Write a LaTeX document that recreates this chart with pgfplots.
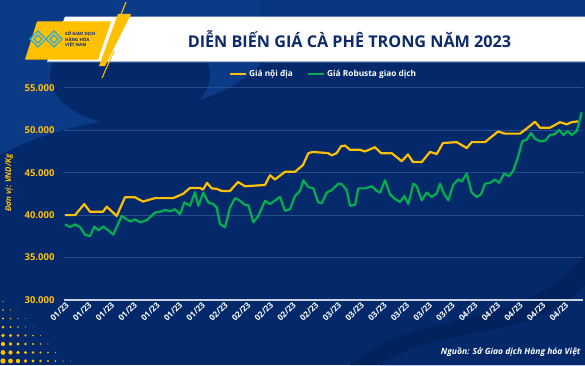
\documentclass[border=0pt]{standalone}
\usepackage{pgfplots}
\pgfplotsset{compat=1.18}
\usepackage{fontspec}
\setmainfont{Open Sans}
\definecolor{bg}{HTML}{03296B}
\definecolor{bgl}{HTML}{0B3A86}
\definecolor{bgd}{HTML}{01225C}
\definecolor{yel}{HTML}{FFC000}
\definecolor{grn}{HTML}{00B050}
\definecolor{gridc}{HTML}{294C8C}
\definecolor{navy}{HTML}{0D2A6B}
\definecolor{cyanlogo}{HTML}{29ABE2}

\pgfplotstableread{
x y
65 40000
75 40000
84.3 41300
90 40400
103 40400
106.7 41000
116.7 39900
125 42100
135 42100
143 41600
155 42000
173 42000
183 42500
190 43200
200 43200
203 43000
207 43800
211.7 43150
216.7 43100
221.7 42850
230 42850
238 43900
245 43400
265 43550
270 44700
275 44200
285 45100
295 45100
303 45900
308.3 47300
313 47450
328 47300
331.7 47050
336.7 47300
341 48100
345 48200
350 47700
360 47700
365 47500
375 48000
381 47300
391.7 47300
401.7 46350
408 47150
413 46250
421.7 46250
430 47450
436.7 47200
443 48500
456.7 48600
466.7 47900
471.7 48600
485 48600
498 49850
505 49600
520 49600
526.7 50200
535 51000
540 50300
550 50300
560 50950
566.7 50700
571.7 50950
578 51050
}\domestic

\pgfplotstableread{
x y
65 38900
70 38600
75 38900
80 38600
85 37700
90 37500
94.3 38650
98.3 38200
103.3 38650
108.3 38200
113.3 37700
121.7 39900
130 39250
135 39500
140 39150
146.7 39400
155 40300
161.7 40450
165 40600
170 40450
175 40700
180 40100
184.3 41500
190 41100
195 42700
198.3 41100
203.3 42650
208.3 41500
213.3 41300
216.7 40900
220 38950
225 38550
230 40900
235 42000
239.3 41750
245 41200
248.3 41200
253.3 39150
258.3 39900
265 41700
270 41300
280 42150
285 40500
290 40700
295 42250
300 42850
303.3 44100
308.3 43300
313.3 43150
318.3 41500
321.7 41400
326.7 42650
331.7 42950
338.3 43700
341.7 43650
346.7 42950
350 41100
355 41200
358.3 43150
365 43150
371.7 43400
376.7 42850
380 42650
385 44100
390 42450
395 41900
400 41550
404.3 42250
408.3 41300
413.3 43700
416.7 43400
421.7 41750
426.7 42650
431.7 42150
436.7 42550
440 43700
444.3 42450
448.3 41750
453.3 43600
458.3 44200
461.7 43950
466.7 44900
471.7 42650
476.7 42150
481 42450
485 43700
490 43800
495 44200
499 43800
504.3 44900
509 44600
513.3 45250
517.7 46750
522.3 48700
526.7 48900
531 49650
535 49000
540 48700
545 48750
550 49450
555 49550
559 50050
563.3 49450
567.7 49900
571.7 49450
576.7 49900
581.7 52100
}\robusta

\begin{document}
\begin{tikzpicture}[x=1pt,y=1pt]
\useasboundingbox (0,0) rectangle (585,365);
\begin{scope}
\clip (0,0) rectangle (585,365);
\fill[bg] (0,0) rectangle (585,365);
% lighter top-left sweep
\fill[bgl] (0,365) -- (260,365) -- (260,300) .. controls (200,240) and (90,260) .. (0,210) -- cycle;
\fill[bg] (130,290) ellipse (80pt and 50pt);
\fill[bgl!70!bg] (260,365) -- (585,365) -- (585,340) -- (260,340) -- cycle;
% bottom-right wave
\fill[bgd] (350,0) .. controls (420,60) and (520,30) .. (585,110) -- (585,0) -- cycle;
\fill[bg] (380,0) .. controls (450,45) and (530,20) .. (585,80) -- (585,0) -- cycle;
% halftone dots
\foreach \i in {0,...,10}{
  \foreach \j in {0,...,9}{
    \pgfmathsetmacro{\r}{2.7-0.26*\i-0.3*\j}
    \ifdim\r pt>0.35pt
      \fill[yel] (3+7.5*\i, 4+8.5*\j) circle (\r pt);
    \fi
  }
}
\end{scope}

% banner
\fill[white] (47,303.3) -- (65,348.3) -- (585,348.3) -- (585,303.3) -- cycle;
\draw[gridc, line width=0.8pt] (47,302.9) -- (585,302.9);
% logo
\fill[yel] (25,305.5) -- (37,343.5) -- (111,343.5) -- (98,305.5) -- cycle;
\begin{scope}[cyanlogo, line width=1.1pt]
\draw (30,326) -- (38,334) -- (46,326) -- (54,334) -- (62,326) -- (54,318) -- (46,326) -- (38,318) -- cycle;
\draw (34,326) -- (38,330) -- (42,326) -- (38,322) -- cycle;
\draw (50,326) -- (54,330) -- (58,326) -- (54,322) -- cycle;
\end{scope}
\node[anchor=west, inner sep=0pt, text=navy, font=\bfseries\fontsize{4.4}{5}\selectfont, align=left] at (65,326) {SỞ GIAO DỊCH\\HÀNG HÓA\\VIỆT NAM};
% stripes
\draw[yel, line width=1.1pt] (126,363) -- (109,320);
\fill[yel] (118,351) -- (131,351) -- (105,299) -- (99,299) -- cycle;
\draw[yel, line width=1.1pt] (114,314) -- (102,287);

% title
\node[text=navy, font=\bfseries\fontsize{16.2}{18}\selectfont] at (349.5,325.5) {DIỄN BIẾN GIÁ CÀ PHÊ TRONG NĂM 2023};

\begin{axis}[
  at={(64pt,65pt)}, anchor=south west,
  width=519pt, height=212.2pt, scale only axis,
  xmin=64, xmax=583, ymin=30000, ymax=55000,
  ytick={30000,35000,40000,45000,50000,55000},
  scaled y ticks=false,
  xtick={65.5,88.2,110.9,133.6,156.3,179,201.7,224.4,247.1,269.8,292.5,315.2,337.9,360.6,383.3,406,428.7,451.4,474.1,496.8,519.5,542.2,564.9},
  xticklabels={01/23,01/23,01/23,01/23,01/23,01/23,01/23,02/23,02/23,02/23,02/23,02/23,03/23,03/23,03/23,03/23,03/23,03/23,04/23,04/23,04/23,04/23,04/23},
  ymajorgrids, grid style={gridc, line width=0.7pt},
  axis line style={draw=none},
  major tick length=0pt,
  yticklabel style={text=yel, font=\bfseries\fontsize{9.5}{10}\selectfont, xshift=-6pt,
    /pgf/number format/1000 sep={.}, /pgf/number format/assume math mode=true},
  xticklabel style={text=white, font=\bfseries\fontsize{8.3}{9}\selectfont, rotate=45, anchor=east, yshift=-4pt, inner sep=1pt},
  legend style={at={(0.5,1)}, anchor=center, yshift=14pt, draw=none, fill=none, text=white,
    font=\bfseries\fontsize{8.3}{9}\selectfont},
  legend columns=2,
  legend cell align=left,
  /tikz/every even column/.append style={column sep=12pt},
  legend image code/.code={\draw[#1] (0pt,0pt) -- (16pt,0pt);},
]
\addplot[yel, line width=2.2pt, line join=round] table {\domestic};
\addlegendentry{Giá nội địa}
\addplot[grn, line width=2.2pt, line join=round] table {\robusta};
\addlegendentry{Giá Robusta giao dịch}
\draw[white!75!gridc, line width=1.5pt] (rel axis cs:0,0) -- (rel axis cs:1,0);
\end{axis}

\node[rotate=90, text=yel, font=\bfseries\itshape\fontsize{8}{9}\selectfont] at (9,182) {Đơn vị: VND/Kg};
\node[anchor=east, text=white, font=\bfseries\itshape\fontsize{8.5}{9}\selectfont] at (584,13) {Nguồn: Sở Giao dịch Hàng hóa Việt};
\end{tikzpicture}
\end{document}
